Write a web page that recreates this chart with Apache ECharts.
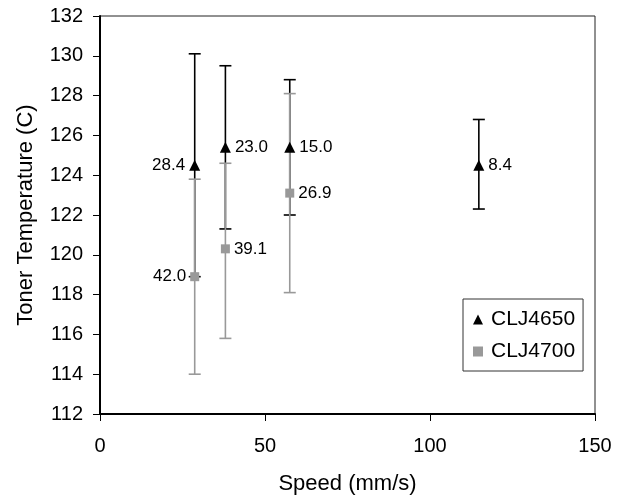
<!DOCTYPE html>
<html><head><meta charset="utf-8">
<script src="https://cdn.jsdelivr.net/npm/echarts@6/dist/echarts.min.js"></script>
<style>html,body{margin:0;padding:0;background:#fff}#c{width:626px;height:502px}</style>
</head><body><div id="c"></div>
<script>
var speeds = [28.7, 38.0, 57.5, 114.8];
var clj4650Mean = [124.5, 125.4, 125.4, 124.5];
var clj4650Low = [118.9, 121.3, 122.0, 122.3];
var clj4650High = [130.1, 129.5, 128.8, 126.8];
var clj4650Labels = ['28.4', '23.0', '15.0', '8.4'];
var clj4700Mean = [118.9, 120.3, 123.1];
var clj4700Low = [114.0, 115.8, 118.1];
var clj4700High = [123.8, 124.6, 128.1];
var clj4700Labels = ['42.0', '39.1', '26.9'];
var yTicks = [112, 132, 2];
var xTicks = [0, 150, 50];

var FONT = 'Liberation Sans, Arial, Helvetica, sans-serif';
var BLACK = '#000000', GRAY = '#999999';

function errRender(color, width) {
  return function (params, api) {
    var x = api.value(0), lo = api.value(1), hi = api.value(2);
    var pLo = api.coord([x, lo]), pHi = api.coord([x, hi]);
    var h = 6;
    var st = {stroke: color, lineWidth: width};
    return {type: 'group', children: [
      {type: 'line', shape: {x1: pHi[0], y1: pHi[1], x2: pLo[0], y2: pLo[1]}, style: st},
      {type: 'line', shape: {x1: pHi[0] - h, y1: pHi[1], x2: pHi[0] + h, y2: pHi[1]}, style: st},
      {type: 'line', shape: {x1: pLo[0] - h, y1: pLo[1], x2: pLo[0] + h, y2: pLo[1]}, style: st}
    ]};
  };
}
function errData(lo, hi) {
  return lo.map(function (v, i) { return [speeds[i], v, hi[i]]; });
}
function ptData(mean, labels) {
  return mean.map(function (v, i) {
    return {value: [speeds[i], v], labelText: labels[i],
      label: {position: i === 0 ? 'left' : 'right'}};
  });
}
var labelStyle = {show: true, distance: 4, color: '#000', fontSize: 17, fontFamily: FONT,
  formatter: function (p) { return p.data.labelText; }};

var chart = echarts.init(document.getElementById('c'), null, {renderer: 'canvas'});
chart.setOption({
  animation: false,
  backgroundColor: '#fff',
  grid: {left: 100, right: 31, top: 16, bottom: 88, show: true, borderColor: '#222', borderWidth: 1, backgroundColor: 'transparent'},
  xAxis: {
    type: 'value', min: xTicks[0], max: xTicks[1], interval: xTicks[2],
    name: 'Speed (mm/s)', nameLocation: 'middle', nameGap: 59,
    nameTextStyle: {fontSize: 22, fontFamily: FONT, color: '#000'},
    axisLine: {show: true, onZero: false, lineStyle: {color: '#000', width: 2}},
    axisTick: {show: true, inside: false, length: 7, lineStyle: {color: '#000', width: 1}},
    axisLabel: {margin: 22, fontSize: 20, fontFamily: FONT, color: '#000'},
    splitLine: {show: false}
  },
  yAxis: {
    type: 'value', min: yTicks[0], max: yTicks[1], interval: yTicks[2],
    name: 'Toner Temperature (C)', nameLocation: 'middle', nameGap: 63,
    nameTextStyle: {fontSize: 22, fontFamily: FONT, color: '#000'},
    axisLine: {show: true, onZero: false, lineStyle: {color: '#000', width: 2}},
    axisTick: {show: true, inside: false, length: 7, lineStyle: {color: '#000', width: 1}},
    axisLabel: {margin: 17, fontSize: 20, fontFamily: FONT, color: '#000'},
    splitLine: {show: false}
  },
  legend: {
    orient: 'vertical', left: 463, top: 299, padding: [10, 8, 9, 10], itemGap: 11,
    itemWidth: 10, itemHeight: 10,
    borderColor: '#333', borderWidth: 1, backgroundColor: '#fff',
    textStyle: {fontSize: 21, fontFamily: FONT, color: '#000', padding: [0, 0, 0, 3]},
    data: [{name: 'CLJ4650', icon: 'triangle'}, {name: 'CLJ4700', icon: 'rect'}]
  },
  series: [
    {type: 'custom', name: 'err4650', silent: true, z: 2, renderItem: errRender(BLACK, 1.6),
      encode: {x: 0, y: [1, 2]}, data: errData(clj4650Low, clj4650High)},
    {type: 'custom', name: 'err4700', silent: true, z: 3, renderItem: errRender(GRAY, 1.6),
      encode: {x: 0, y: [1, 2]}, data: errData(clj4700Low, clj4700High)},
    {type: 'scatter', name: 'CLJ4700', z: 4, symbol: 'rect', symbolSize: 9,
      itemStyle: {color: GRAY, opacity: 1}, label: labelStyle, data: ptData(clj4700Mean, clj4700Labels)},
    {type: 'scatter', name: 'CLJ4650', z: 5, symbol: 'triangle', symbolSize: 11,
      itemStyle: {color: BLACK, opacity: 1}, label: labelStyle, data: ptData(clj4650Mean, clj4650Labels)}
  ]
});
</script></body></html>
